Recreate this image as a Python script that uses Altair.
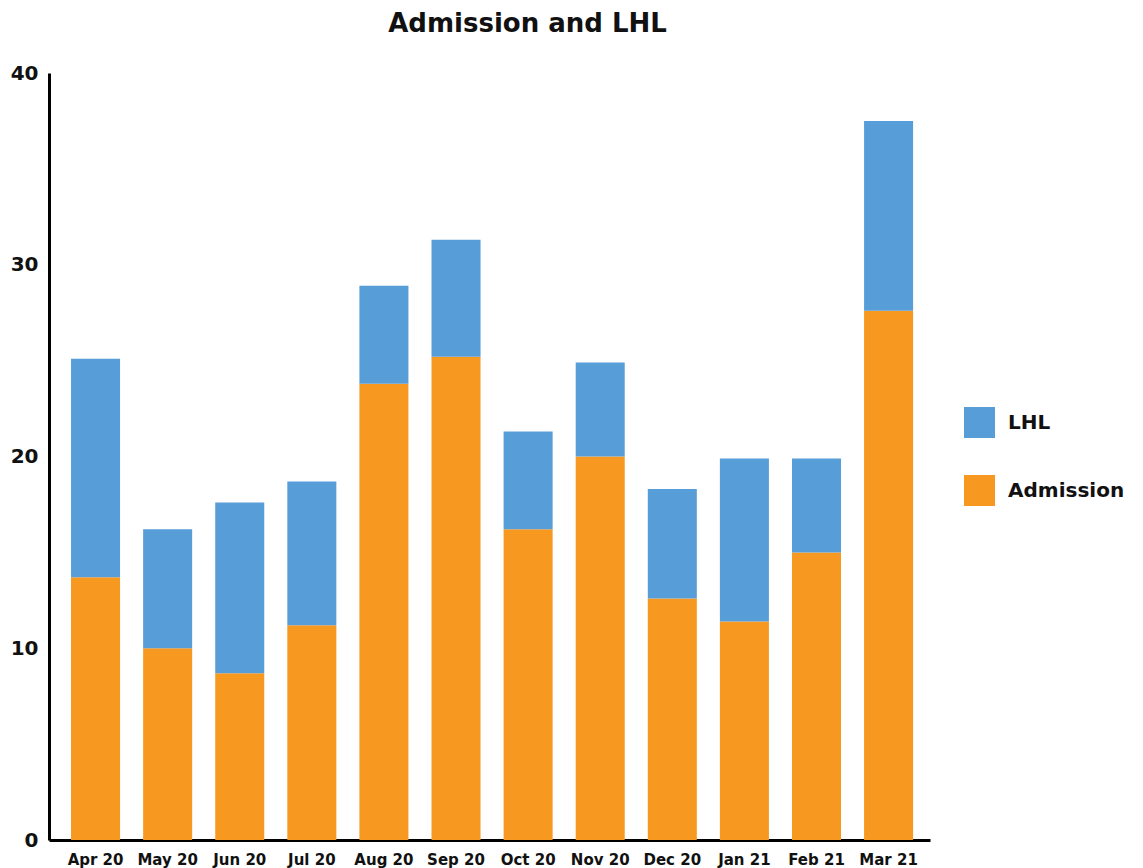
import altair as alt
import pandas as pd

months = ["Apr 20", "May 20", "Jun 20", "Jul 20", "Aug 20", "Sep 20",
          "Oct 20", "Nov 20", "Dec 20", "Jan 21", "Feb 21", "Mar 21"]
admission = [13.7, 10.0, 8.7, 11.2, 23.8, 25.2, 16.2, 20.0, 12.6, 11.4, 15.0, 27.6]
lhl = [11.4, 6.2, 8.9, 7.5, 5.1, 6.1, 5.1, 4.9, 5.7, 8.5, 4.9, 9.9]

series = ["LHL", "Admission"]
colors = ["#579DD7", "#F79821"]

rows = []
for m, a, l in zip(months, admission, lhl):
    rows.append({"Month": m, "Series": "Admission", "Value": a, "ord": 0})
    rows.append({"Month": m, "Series": "LHL", "Value": l, "ord": 1})
df = pd.DataFrame(rows)

FONT = "DejaVu Sans"

chart = alt.Chart(df).mark_bar().encode(
    x=alt.X("Month:N", sort=months, title=None,
            scale=alt.Scale(paddingInner=0.32, paddingOuter=0.27, align=0.566),
            axis=alt.Axis(labelAngle=0, ticks=False, labelPadding=12,
                          labelFontSize=15, labelFontWeight="bold",
                          labelColor="#111111", domainColor="#000000",
                          domainWidth=3, labelFont=FONT)),
    y=alt.Y("Value:Q", title=None, stack="zero",
            scale=alt.Scale(domain=[0, 40], nice=False),
            axis=alt.Axis(values=[0, 10, 20, 30, 40], grid=False, ticks=False,
                          labelPadding=11, labelFontSize=20,
                          labelFontWeight="bold", labelColor="#111111",
                          domainColor="#000000", domainWidth=3,
                          labelFont=FONT)),
    color=alt.Color("Series:N",
                    scale=alt.Scale(domain=series, range=colors),
                    legend=alt.Legend(title=None, orient="none",
                                      legendX=915, legendY=334,
                                      symbolType="square", symbolSize=961,
                                      symbolStrokeWidth=0,
                                      labelFontSize=20, labelFont=FONT,
                                      labelFontWeight="bold",
                                      labelColor="#111111",
                                      rowPadding=37, labelOffset=13,
                                      padding=0)),
    order=alt.Order("ord:Q"),
).properties(
    width=881,
    height=767,
    title=alt.Title("Admission and LHL", fontSize=26, font=FONT,
                    fontWeight="bold", color="#111111", anchor="middle",
                    dx=38, offset=26),
    autosize=alt.AutoSizeParams(type="none"),
    padding={"left": 49, "top": 73, "right": 213, "bottom": 28},
).configure_view(stroke=None)

chart.save("out.html", embed_options={"renderer": "svg", "actions": False})
